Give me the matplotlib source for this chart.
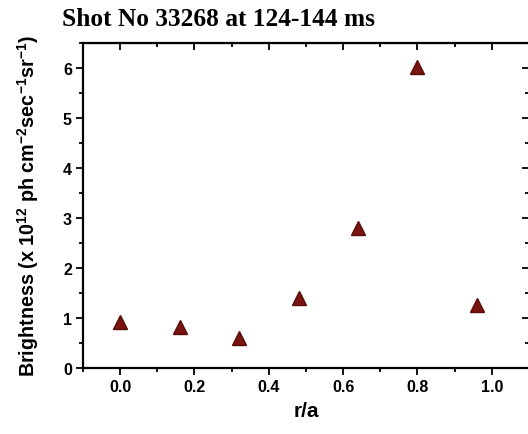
import numpy as np
import matplotlib.pyplot as plt
from matplotlib.ticker import MultipleLocator

# Data
r_a = [0.0, 0.16, 0.32, 0.48, 0.64, 0.80, 0.96]
brightness = [0.92, 0.82, 0.60, 1.40, 2.80, 6.02, 1.25]

plt.rcParams['mathtext.fontset'] = 'custom'
plt.rcParams['mathtext.bf'] = 'Liberation Sans:bold'
plt.rcParams['mathtext.rm'] = 'Liberation Sans:bold'

fig = plt.figure(figsize=(5.28, 4.35), dpi=100)
ax = fig.add_axes([0.1572, 0.152, 0.8446, 0.747])

ax.plot(r_a, brightness, linestyle='none', marker='^', markersize=10,
        color='#7a1410', markeredgecolor='#5a0c08')

ax.set_xlim(-0.1, 1.1)
ax.set_ylim(0, 6.5)
ax.xaxis.set_major_locator(MultipleLocator(0.2))
ax.xaxis.set_minor_locator(MultipleLocator(0.1))
ax.yaxis.set_major_locator(MultipleLocator(1))
ax.yaxis.set_minor_locator(MultipleLocator(0.5))

for s in ax.spines.values():
    s.set_linewidth(1.6)
ax.spines['right'].set_visible(False)

ax.tick_params(which='both', direction='out', width=1.3, top=False, right=False, pad=3)
ax.tick_params(which='major', length=5)
ax.tick_params(which='minor', length=3)

# mirrored ticks on top and right, pointing inward
ax2 = ax.secondary_xaxis('top')
ax2.xaxis.set_major_locator(MultipleLocator(0.2))
ax2.xaxis.set_minor_locator(MultipleLocator(0.1))
ax2.tick_params(which='both', direction='in', labeltop=False, width=1.3)
ax2.tick_params(which='major', length=5)
ax2.tick_params(which='minor', length=3)
ax3 = ax.secondary_yaxis('right')
ax3.yaxis.set_major_locator(MultipleLocator(1))
ax3.yaxis.set_minor_locator(MultipleLocator(0.5))
ax3.tick_params(which='both', direction='in', labelright=False, width=1.3)
ax3.tick_params(which='major', length=5)
ax3.tick_params(which='minor', length=3)
ax3.spines['right'].set_visible(False)

ax.xaxis.set_major_formatter(plt.FuncFormatter(lambda v, p: f"{v:.1f}"))
for lab in ax.get_xticklabels() + ax.get_yticklabels():
    lab.set_fontfamily('Liberation Sans')
    lab.set_fontweight('bold')
    lab.set_fontsize(11.5)

ax.set_xlabel('r/a', fontfamily='Liberation Sans', fontweight='bold', fontsize=15, labelpad=5)
ax.set_ylabel(r'Brightness (x 10$^{12}$ ph cm$^{-2}$sec$^{-1}$sr$^{-1}$)',
              fontfamily='Liberation Sans', fontweight='bold', fontsize=14.2, labelpad=16)

fig.text(0.118, 0.956, 'Shot No 33268 at 124-144 ms', fontfamily='Liberation Serif',
         fontweight='bold', fontsize=18.3, va='center', ha='left')

fig.savefig('out.png', dpi=100)
